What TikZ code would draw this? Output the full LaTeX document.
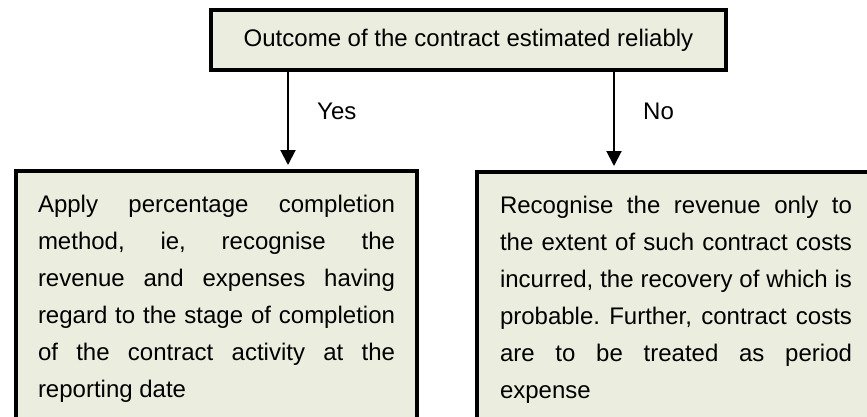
\documentclass[tikz,border=0pt]{standalone}
\usepackage{fontspec}
\setmainfont{Liberation Sans}
\usetikzlibrary{arrows.meta}

\definecolor{boxfill}{RGB}{235,238,222}
\frenchspacing

\tikzset{
  flowbox/.style = {draw = black, line width = 4pt, fill = boxfill},
  textbox/.style = {flowbox, anchor = north west, align = justify,
    inner xsep = 22pt, inner ysep = 24pt,
    font = \fontsize{24}{37}\selectfont},
  flowarrow/.style = {line width = 2pt, -{Triangle[width = 15pt, length = 15pt]}, shorten > = 4pt},
  answer/.style = {anchor = west, inner sep = 0pt, font = \fontsize{24}{29}\selectfont}
}

\begin{document}
		\begin{tikzpicture}[x = 1pt, y = -1pt]
			\useasboundingbox (0,0) rectangle (867,416);
			% decision
			\node[flowbox, minimum width = 515pt, minimum height = 60pt, inner sep = 0pt,
			  font = \fontsize{24}{29}\selectfont] (outcome) at (468.5,40)
			  {Outcome of the contract estimated reliably};
			% outcomes
			\node[textbox, text width = 357pt] (yesbox) at (14,169)
			  {Apply percentage completion\linebreak method, ie, recognise the\linebreak revenue and expenses having\linebreak regard to the stage of completion\linebreak of the contract activity at the\linebreak reporting date};
			\node[textbox, text width = 352pt, inner xsep = 23pt] (nobox) at (475,170)
			  {Recognise the revenue only to\linebreak the extent of such contract costs\linebreak incurred, the recovery of which is\linebreak probable. Further, contract costs\linebreak are to be treated as period\linebreak expense};
			% arrows
			\draw[flowarrow] (288,0 |- outcome.south) -- (288,0 |- yesbox.north);
			\draw[flowarrow] (614,0 |- outcome.south) -- (614,0 |- nobox.north);
			\node[answer] (yes) at (317,111) {Yes};
			\node[answer] (no) at (643,111) {No};
		\end{tikzpicture}
\end{document}
